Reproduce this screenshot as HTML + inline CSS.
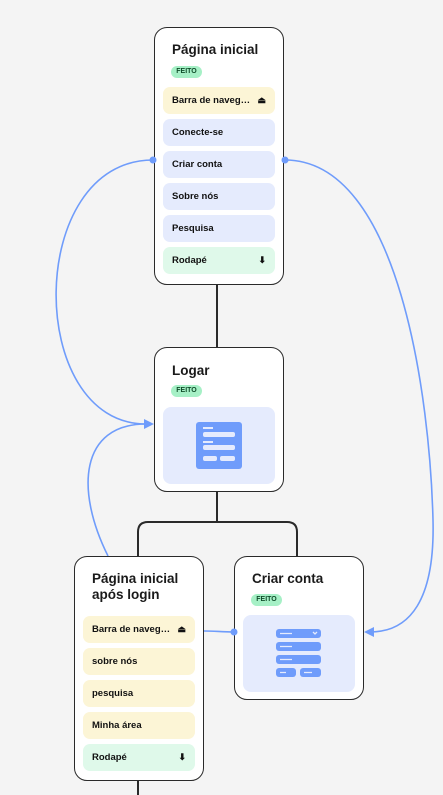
<!DOCTYPE html>
<html><head><meta charset="utf-8"><style>
*{box-sizing:border-box;margin:0;padding:0}
body{width:443px;height:795px;background:#f4f4f4;position:relative;overflow:hidden;font-family:"Liberation Sans",sans-serif;color:#111}
.card{position:absolute;background:#fff;border:1.5px solid #2a2a2a;border-radius:13px}
.t{position:absolute;left:17px;font-size:13.5px;font-weight:600;color:#1a1a1a;line-height:16px}
.b{position:absolute;left:16px;height:12px;width:31px;border-radius:6px;background:#a6f0c6;color:#0f4d2a;font-size:7px;font-weight:bold;text-align:center;line-height:12px}
.r{position:absolute;left:8px;width:112px;height:27px;border-radius:7px;font-size:9.5px;font-weight:bold;line-height:27px;padding-left:9px;color:#111}
.y{background:#fcf5d6}.bl{background:#e5ebfd}.g{background:#dff9ea}
.ic{position:absolute;right:9px;top:0;font-size:9px}
.img{position:absolute;left:8px;width:112px;height:77px;border-radius:8px;background:#e5ebfd}
</style></head><body>
<svg width="443" height="795" style="position:absolute;left:0;top:0">
<g stroke="#2a2a2a" stroke-width="2" fill="none">
<path d="M217 285V347M217 492V522"/>
<path d="M138 556V532Q138 522 148 522H287Q297 522 297 532V556"/>
<path d="M138 781V795"/>
</g>
<g stroke="#6f9cfb" stroke-width="1.6" fill="none">
<path d="M153 160C25 160 25 424 146 424"/>
<path d="M108 556C75 490 80 424 146 424"/>
<path d="M285 160C400 160 430 400 433 520C435 600 410 632 370 632"/>
<path d="M204 631C215 631 222 632 234 632"/>
</g>
</svg>
<div class="card" style="left:154px;top:27px;width:130px;height:258px">
<div class="t" style="top:14px">Página inicial</div>
<div class="b" style="top:38px">FEITO</div>
<div class="r y" style="top:59px">Barra de naveg…<span class="ic">⏏</span></div>
<div class="r bl" style="top:91px">Conecte-se</div>
<div class="r bl" style="top:123px">Criar conta</div>
<div class="r bl" style="top:155px">Sobre nós</div>
<div class="r bl" style="top:187px">Pesquisa</div>
<div class="r g" style="top:219px">Rodapé<span class="ic">⬇</span></div>
</div>
<div class="card" style="left:154px;top:347px;width:130px;height:145px">
<div class="t" style="top:15px">Logar</div>
<div class="b" style="top:37px">FEITO</div>
<div class="img" style="top:59px">
<svg width="112" height="77"><rect x="33" y="15" width="46" height="47" rx="3" fill="#6f9cfb"/>
<g fill="#e5ebfd"><rect x="40" y="20" width="10" height="2"/><rect x="40" y="25" width="32" height="5" rx="2"/><rect x="40" y="34" width="10" height="2"/><rect x="40" y="38" width="32" height="5" rx="2"/><rect x="40" y="49" width="14" height="5" rx="2"/><rect x="57" y="49" width="15" height="5" rx="2"/></g></svg>
</div>
</div>
<div class="card" style="left:74px;top:556px;width:130px;height:225px">
<div class="t" style="top:14px">Página inicial<br>após login</div>
<div class="r y" style="top:59px">Barra de naveg…<span class="ic">⏏</span></div>
<div class="r y" style="top:91px">sobre nós</div>
<div class="r y" style="top:123px">pesquisa</div>
<div class="r y" style="top:155px">Minha área</div>
<div class="r g" style="top:187px">Rodapé<span class="ic">⬇</span></div>
</div>
<div class="card" style="left:234px;top:556px;width:130px;height:144px">
<div class="t" style="top:14px">Criar conta</div>
<div class="b" style="top:37px">FEITO</div>
<div class="img" style="top:58px">
<svg width="112" height="77"><g fill="#6f9cfb"><rect x="33" y="14" width="45" height="9" rx="3"/><rect x="33" y="27" width="45" height="9" rx="3"/><rect x="33" y="40" width="45" height="9" rx="3"/><rect x="33" y="53" width="20" height="9" rx="3"/><rect x="57" y="53" width="21" height="9" rx="3"/></g>
<g stroke="#e5ebfd" stroke-width="1.3"><path d="M37 18.5h12M37 31.5h12M37 44.5h12M37 57.5h6M61 57.5h8"/><path d="M70 17l2 2 2-2" fill="none"/></g></svg>
</div>
</div>
<svg width="443" height="795" style="position:absolute;left:0;top:0">
<g fill="#6f9cfb">
<circle cx="153" cy="160" r="3.5"/><circle cx="285" cy="160" r="3.5"/><circle cx="234" cy="632" r="3.5"/>
<path d="M154 424L144 419V429Z"/><path d="M364 632L374 627V637Z"/>
</g>
</svg>
</body></html>
